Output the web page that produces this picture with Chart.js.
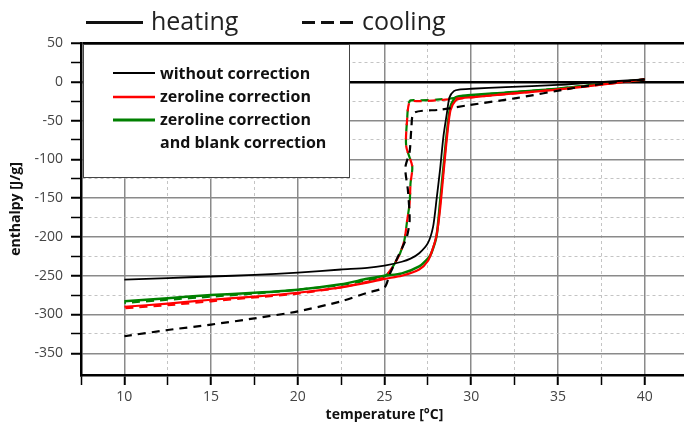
<!DOCTYPE html>
<html>
<head>
<meta charset="utf-8">
<script src="https://cdn.jsdelivr.net/npm/chart.js@4"></script>
<style>
  html, body { margin: 0; padding: 0; background: #fff; overflow: hidden; }
  #wrap { width: 684px; height: 423px; overflow: hidden; }
</style>
</head>
<body>
<div id="wrap"><canvas id="chart" width="700" height="423"></canvas></div>
<script>
// heating runs (solid lines)
const heatRawT = [10, 12.5, 15, 17.5, 20, 22.5, 24, 25, 26, 26.5, 27, 27.5, 27.8, 28, 28.2, 28.4, 28.6, 28.75, 29, 29.3, 30, 32, 35, 37, 40];
const heatRawH = [-255, -253, -251, -249, -246, -242, -240, -237, -232, -228, -221, -208, -187, -152, -114, -70, -40, -20, -12, -10, -9, -7, -4, -1, 3];

const heatZeroT = [10, 12.5, 15, 17.5, 20, 22.5, 24, 25, 26, 27, 27.5, 27.8, 28, 28.2, 28.4, 28.6, 28.8, 29.1, 29.5, 30, 32, 35, 37, 40];
const heatZeroH = [-290, -286, -281, -277, -272, -265, -259, -254, -250, -242, -231, -214, -198, -165, -118, -72, -37, -24, -21, -20, -16, -10, -5, 3];

const heatBlankT = [10, 12.5, 15, 17.5, 20, 22.5, 24, 25, 26, 27, 27.5, 27.7, 28, 28.2, 28.4, 28.6, 28.8, 29.1, 29.5, 30, 32, 35, 37, 40];
const heatBlankH = [-283, -279, -275, -272, -268, -261, -254, -250, -247, -238, -228, -221, -199, -156, -110, -65, -32, -20, -18, -17, -14, -9, -4, 3];

// cooling runs (dashed lines), from hot to cold
const coolRawT = [40, 37.8, 35.9, 32.6, 29.9, 28.2, 26.7, 26.55, 26.45, 26.2, 26.35, 26.45, 26.3, 26.0, 25.7, 25.3, 25, 24, 22.5, 20, 17.5, 15, 12.5, 10];
const coolRawH = [3, -2, -8, -21, -30, -36, -40, -60, -90, -111, -140, -178, -199, -215, -229, -248, -265, -272, -283, -296, -305, -313, -320, -328];

const coolZeroT = [40, 37, 35, 32, 30, 29, 28, 27, 26.45, 26.3, 26.25, 26.6, 26.5, 26.45, 26.3, 26.15, 25.9, 25.6, 25.2, 24.9, 24, 22.5, 20, 17.5, 15, 12.5, 10];
const coolZeroH = [3, -5, -10, -16, -20, -22, -24, -25, -26, -50, -83, -109, -131, -156, -180, -204, -221, -234, -247, -253, -258, -265, -273, -278, -283, -288, -292];

const coolBlankT = [40, 37, 35, 32, 30, 29, 28, 27, 26.45, 26.3, 26.25, 26.6, 26.5, 26.45, 26.3, 26.15, 25.9, 25.6, 25.2, 24.9, 24, 22.5, 20, 17.5, 15, 12.5, 10];
const coolBlankH = [3, -4, -9, -14, -18, -21, -23, -24, -25, -50, -83, -109, -131, -156, -180, -204, -221, -234, -247, -252, -256, -262, -268, -273, -277, -281, -285];

// axes
const xTicks = [7.5, 10, 12.5, 15, 17.5, 20, 22.5, 25, 27.5, 30, 32.5, 35, 37.5, 40, 42.5];
const yTicks = [50, 25, 0, -25, -50, -75, -100, -125, -150, -175, -200, -225, -250, -275, -300, -325, -350];

const seriesLabels = ["without correction", "zeroline correction", "zeroline correction", "and blank correction"];
const keyLabels = ["heating", "cooling"];

function toPoints(xs, ys) {
  return xs.map((x, i) => ({ x, y: ys[i] }));
}

const isMajorX = v => Math.abs(v % 5) < 1e-6;
const isMajorY = v => Math.abs(v % 50) < 1e-6;

function lineSet(label, xs, ys, color, width, dashOffset) {
  return {
    label,
    data: toPoints(xs, ys),
    borderColor: color,
    borderWidth: width,
    borderDash: dashOffset === undefined ? [] : [8, 6],
    borderDashOffset: dashOffset || 0,
    pointRadius: 0,
    tension: 0.25,
    fill: false,
  };
}

// legend box inside the plot and the heating / cooling key above it
const legendPlugin = {
  id: "legends",
  afterDraw(chart) {
    const ctx = chart.ctx;
    ctx.save();

    // top key
    ctx.strokeStyle = "#111";
    ctx.lineWidth = 3;
    ctx.beginPath();
    ctx.moveTo(86, 22.5);
    ctx.lineTo(143, 22.5);
    ctx.stroke();
    ctx.setLineDash([13, 6]);
    ctx.beginPath();
    ctx.moveTo(302, 22.5);
    ctx.lineTo(358, 22.5);
    ctx.stroke();
    ctx.setLineDash([]);
    ctx.fillStyle = "#222";
    ctx.font = "25px 'Open Sans'";
    ctx.textBaseline = "alphabetic";
    ctx.fillText(keyLabels[0], 151, 30);
    ctx.fillText(keyLabels[1], 362, 30);

    // inner box
    ctx.fillStyle = "#fff";
    ctx.fillRect(83, 44, 266, 133);
    ctx.strokeStyle = "#444";
    ctx.lineWidth = 1;
    ctx.strokeRect(83.5, 44.5, 266, 133);

    const rows = [73, 97, 120];
    const colors = ["#000", "#ff0000", "#008000"];
    const widths = [1.8, 2.5, 3];
    rows.forEach((y, i) => {
      ctx.strokeStyle = colors[i];
      ctx.lineWidth = widths[i];
      ctx.beginPath();
      ctx.moveTo(113, y);
      ctx.lineTo(155, y);
      ctx.stroke();
    });
    ctx.fillStyle = "#111";
    ctx.font = "bold 16px 'Open Sans'";
    ctx.textBaseline = "middle";
    ctx.fillText(seriesLabels[0], 160, 74);
    ctx.fillText(seriesLabels[1], 160, 97);
    ctx.fillText(seriesLabels[2], 160, 120);
    ctx.fillText(seriesLabels[3], 160, 143);
    ctx.restore();
  },
};

const ctx = document.getElementById("chart").getContext("2d");
new Chart(ctx, {
  type: "line",
  data: {
    datasets: [
      lineSet("without correction, heating", heatRawT, heatRawH, "#000", 1.8),
      lineSet("without correction, cooling", coolRawT, coolRawH, "#000", 2.2, 0),
      lineSet("zeroline correction, heating", heatZeroT, heatZeroH, "#ff0000", 2.2),
      lineSet("zeroline correction, cooling", coolZeroT, coolZeroH, "#ff0000", 2.2, 0),
      lineSet("zeroline and blank correction, heating", heatBlankT, heatBlankH, "#008000", 2.5),
      lineSet("zeroline and blank correction, cooling", coolBlankT, coolBlankH, "#008000", 2.2, 7),
    ],
  },
  options: {
    responsive: false,
    animation: false,
    devicePixelRatio: 1,
    layout: { padding: { top: 43, right: 12, left: 0, bottom: 0 } },
    plugins: {
      legend: { display: false },
      tooltip: { enabled: false },
    },
    scales: {
      x: {
        type: "linear",
        min: 7.5,
        max: 42.5,
        afterBuildTicks: scale => { scale.ticks = xTicks.map(v => ({ value: v })); },
        afterFit: scale => { scale.height = 48; },
        ticks: {
          autoSkip: false,
          maxRotation: 0,
          padding: 4,
          color: "#444",
          font: { family: "'Open Sans'", size: 14 },
          callback: v => (isMajorX(v) && v >= 10 && v <= 40 ? String(v) : ""),
        },
        grid: {
          color: c => (isMajorX(c.tick.value) ? "#8a8a8a" : "#c4c4c4"),
          lineWidth: c => (isMajorX(c.tick.value) ? 1.5 : 1),
          tickColor: "#000",
          tickLength: 10,
          tickWidth: c => (c.tick && isMajorX(c.tick.value) ? 2 : 1.5),
        },
        border: {
          color: "#000",
          width: 2.5,
          dash: c => (c.tick && !isMajorX(c.tick.value) ? [3, 3] : []),
        },
        title: {
          display: true,
          text: "temperature [°C]",
          color: "#111",
          font: { family: "'Open Sans'", size: 14, weight: "bold" },
          padding: { top: 0, bottom: 0 },
        },
      },
      y: {
        type: "linear",
        min: -378,
        max: 50,
        afterBuildTicks: scale => { scale.ticks = yTicks.map(v => ({ value: v })); },
        afterFit: scale => { scale.width = 81; },
        ticks: {
          autoSkip: false,
          padding: 8,
          color: "#444",
          font: { family: "'Open Sans'", size: 14 },
          callback: v => (isMajorY(v) ? String(v) : ""),
        },
        grid: {
          color: c => {
            const v = c.tick.value;
            if (v === 0 || v === 50) return "#000";
            return isMajorY(v) ? "#8a8a8a" : "#c4c4c4";
          },
          lineWidth: c => {
            const v = c.tick.value;
            if (v === 0 || v === 50) return 2.5;
            return isMajorY(v) ? 1.5 : 1;
          },
          tickColor: "#000",
          tickLength: 10,
          tickWidth: c => (c.tick && isMajorY(c.tick.value) ? 2 : 1.5),
        },
        border: {
          color: "#000",
          width: 2.5,
          dash: c => (c.tick && !isMajorY(c.tick.value) ? [3, 3] : []),
        },
        title: {
          display: true,
          text: "enthalpy [J/g]",
          color: "#111",
          font: { family: "'Open Sans'", size: 14, weight: "bold" },
          padding: { top: 8, bottom: 0 },
        },
      },
    },
  },
  plugins: [legendPlugin],
});
</script>
</body>
</html>
